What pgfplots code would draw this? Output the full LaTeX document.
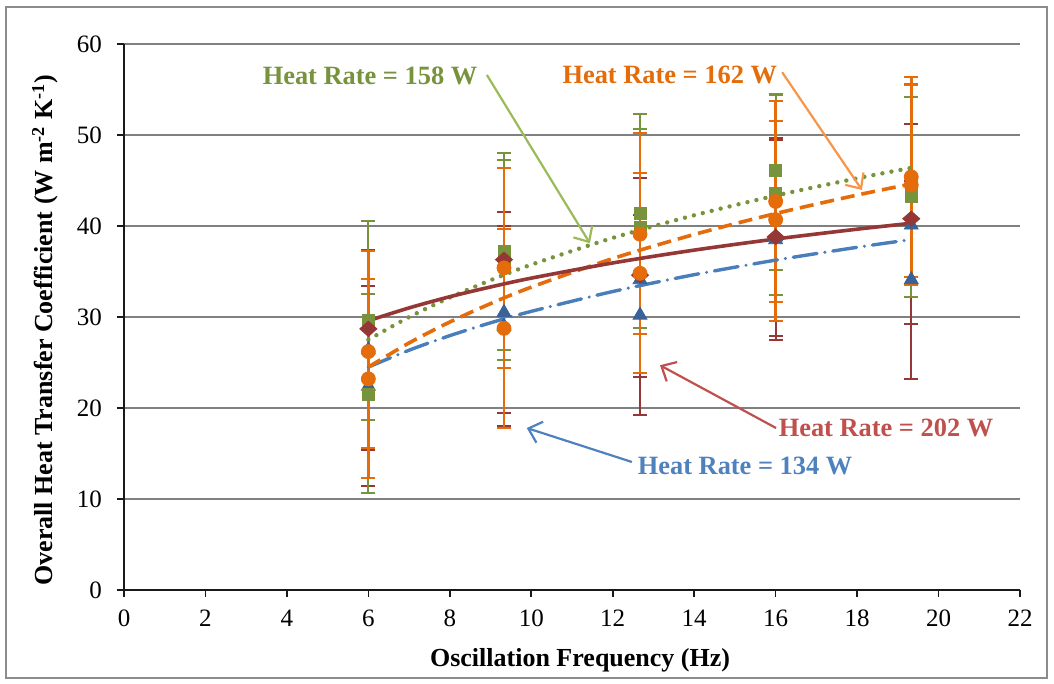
\documentclass[border=0pt]{standalone}
\usepackage{fontspec}
\setmainfont{Liberation Serif}
\usepackage{pgfplots}
\usepackage{pgfplotstable}
\pgfplotsset{compat=1.18}
\usetikzlibrary{arrows.meta}

\definecolor{blueline}{HTML}{4A7EBB}
\definecolor{bluemark}{HTML}{3A6296}
\definecolor{bluelab}{HTML}{4F81BD}
\definecolor{greenmark}{HTML}{77933C}
\definecolor{greenarrow}{HTML}{9BBB59}
\definecolor{orangemark}{HTML}{E46C0A}
\definecolor{orangearrow}{HTML}{F79646}
\definecolor{redmark}{HTML}{953735}
\definecolor{redlab}{HTML}{C0504D}

% x y plus minus
\pgfplotstableread{
x y ep em
6 26.4 11.0 11.0
6 22.4 11.0 11.0
9.33 30.5 11.0 11.0
9.33 29.0 11.0 11.0
12.67 34.1 11.2 10.7
12.67 30.2 11.0 11.0
16 38.8 10.9 10.9
16 38.5 11.0 11.0
19.33 40.1 11.1 10.9
19.33 34.1 10.9 10.9
}\bluedata

\pgfplotstableread{
x y ep em
6 29.6 10.9 10.9
6 21.5 11.0 10.8
9.33 37.2 10.85 10.85
9.33 36.25 10.95 10.95
12.67 41.4 10.9 12.6
12.67 39.9 10.8 11.8
16 46.15 8.25 10.95
16 43.6 10.9 11.2
19.33 43.2 11.0 11.0
19.33 44.6 11.0 11.0
}\greendata

\pgfplotstableread{
x y ep em
6 26.2 11.0 10.6
6 23.2 11.0 10.9
9.33 35.4 10.95 10.95
9.33 28.75 10.95 10.95
12.67 39.1 11.1 11.0
12.67 34.8 11.0 11.0
16 42.7 11.0 11.0
16 40.7 10.8 11.1
19.33 45.4 11.0 11.0
19.33 44.5 11.0 11.0
}\orangedata

\pgfplotstableread{
x y
6 28.7
9.33 36.3
12.67 34.6
16 38.8
19.33 40.8
}\reddata

% trendlines
\pgfplotstableread{
x y
6 24.50
7 26.35
8 27.95
9 29.36
10 30.62
12 32.80
14 34.65
16 36.25
18 37.66
19.33 38.51
}\bluetrend

\pgfplotstableread{
x y
6 27.50
7 29.99
8 32.14
9 34.04
10 35.75
12 38.69
14 41.18
16 43.34
18 45.24
19.33 46.39
}\greentrend

\pgfplotstableread{
x y
6 24.50
7 27.15
8 29.45
9 31.47
10 33.28
12 36.42
14 39.07
16 41.37
18 43.40
19.33 44.62
}\orangetrend

\pgfplotstableread{
x y
6 29.59
7 31.00
8 32.23
9 33.30
10 34.27
12 35.94
14 37.35
16 38.57
18 39.65
19.33 40.30
}\redtrend

\begin{document}
\begin{tikzpicture}
\path[use as bounding box] (-62pt,-47pt) rectangle (465pt,295pt);
\draw[black!45, line width=0.6pt] (-59pt,-44pt) rectangle (461.5pt,291.5pt);
\begin{axis}[
  scale only axis, width=448pt, height=273pt,
  xmin=0, xmax=22, ymin=0, ymax=60,
  xtick={0,2,...,22}, ytick={0,10,...,60},
  axis x line*=bottom, axis y line*=left,
  axis line style={-, line width=0.8pt, black!90},
  tick align=outside, major tick length=3.5pt,
  tick style={black!90, line width=0.8pt},
  ymajorgrids, grid style={black!50, line width=0.6pt},
  tick label style={font=\fontsize{12.5}{14}\selectfont},
  yticklabel style={xshift=-4pt},
  xticklabel style={yshift=-3pt},
  /pgf/number format/assume math mode=true,
  xlabel={Oscillation Frequency (Hz)},
  ylabel={Overall Heat Transfer Coefficient (W m\textsuperscript{-2} K\textsuperscript{-1})},
  label style={font=\bfseries\fontsize{13}{15}\selectfont},
  xlabel style={at={(axis description cs:0.509,-0.128)}, anchor=center},
  ylabel style={at={(axis description cs:-0.088,0.476)}, anchor=center},
  clip=false,
  error bars/y dir=both, error bars/y explicit,
]
% 134 W
\addplot[only marks, mark=triangle*, mark size=4pt, color=bluemark,
  error bars/error bar style={color=redmark, line width=1pt},
  error bars/error mark options={rotate=90, mark size=3.5pt, line width=1pt, color=redmark}]
  table[x=x, y=y, y error plus=ep, y error minus=em] {\bluedata};
% 158 W
\addplot[only marks, mark=square*, mark size=3pt, color=greenmark,
  error bars/error bar style={color=greenmark, line width=1pt},
  error bars/error mark options={rotate=90, mark size=3.5pt, line width=1pt, color=greenmark}]
  table[x=x, y=y, y error plus=ep, y error minus=em] {\greendata};
% 202 W
\addplot[only marks, mark=diamond*, mark size=3.8pt, color=redmark, mark options={xscale=1.5}]
  table[x=x, y=y] {\reddata};
% 162 W
\addplot[only marks, mark=*, mark size=3.5pt, color=orangemark,
  error bars/error bar style={color=orangemark, line width=1.3pt},
  error bars/error mark options={rotate=90, mark size=3.5pt, line width=1pt, color=orangemark}]
  table[x=x, y=y, y error plus=ep, y error minus=em] {\orangedata};

% trendlines
\addplot[no marks, smooth, blueline, line width=1.7pt, line cap=round,
  dash pattern=on 12pt off 4pt on 0pt off 4pt] table[x=x, y=y] {\bluetrend};
\addplot[no marks, smooth, greenmark, line width=2.2pt, line cap=round,
  dash pattern=on 0pt off 4.6pt] table[x=x, y=y] {\greentrend};
\addplot[no marks, smooth, orangemark, line width=1.8pt,
  dash pattern=on 7pt off 3.5pt] table[x=x, y=y] {\orangetrend};
\addplot[no marks, smooth, redmark, line width=1.8pt] table[x=x, y=y] {\redtrend};

% annotations
\node[greenmark, font=\bfseries\fontsize{13.2}{15}\selectfont] at (axis cs:6.04,56.5) {Heat Rate = 158 W};
\node[orangemark, font=\bfseries\fontsize{13.2}{15}\selectfont] at (axis cs:13.4,56.6) {Heat Rate = 162 W};
\node[redlab, font=\bfseries\fontsize{13.2}{15}\selectfont] at (axis cs:18.71,17.8) {Heat Rate = 202 W};
\node[bluelab, font=\bfseries\fontsize{13.2}{15}\selectfont] at (axis cs:15.25,13.6) {Heat Rate = 134 W};

\draw[greenarrow, line width=1.1pt, -{Straight Barb[length=6pt,width=11pt]}] (axis cs:8.91,56.6) -- (axis cs:11.44,38.1);
\draw[orangearrow, line width=1.1pt, -{Straight Barb[length=6pt,width=11pt]}] (axis cs:16.16,56.9) -- (axis cs:18.12,43.96);
\draw[redlab, line width=1.1pt, -{Straight Barb[length=6pt,width=11pt]}] (axis cs:16.01,17.8) -- (axis cs:13.16,24.7);
\draw[bluelab, line width=1.1pt, -{Straight Barb[length=6pt,width=11pt]}] (axis cs:12.47,14.07) -- (axis cs:9.89,17.8);
\end{axis}
\end{tikzpicture}
\end{document}
